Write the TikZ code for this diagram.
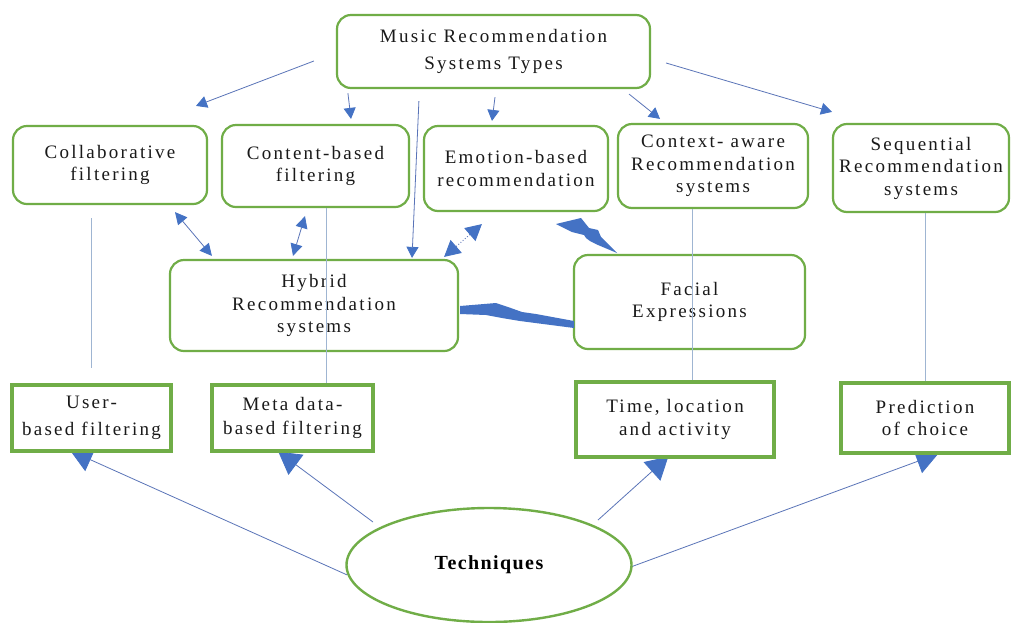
\documentclass[tikz,border=0pt]{standalone}
\usepackage{fontspec}
\setmainfont{Liberation Serif}[LetterSpace=12]
\usetikzlibrary{arrows.meta,calc,shapes.geometric,backgrounds}
\definecolor{boxgreen}{HTML}{70AD47}
\definecolor{headblue}{HTML}{4472C4}
\definecolor{linkblue}{HTML}{5A74B8}
\definecolor{paleblue}{HTML}{9FB5D2}
\begin{document}
\begin{tikzpicture}[x=1pt,y=-1pt,
  txt/.style={font=\fontsize{19}{22.5}\selectfont, align=center, text=black!90},
  rbox/.style={txt, draw=boxgreen, line width=2.2pt, rounded corners=14pt, fill=white, inner sep=0pt},
  sbox/.style={txt, draw=boxgreen, line width=3.4pt, fill=white, inner sep=0pt},
  arr/.style={draw=linkblue, line width=0.8pt, -{Triangle[length=11pt,width=12pt,color=headblue]}},
  darr/.style={draw=linkblue, line width=0.8pt, {Triangle[length=12pt,width=12pt,color=headblue]}-{Triangle[length=12pt,width=12pt,color=headblue]}},
  dotarr/.style={draw=linkblue, line width=0.9pt, dotted, {Triangle[length=16pt,width=17pt,color=headblue]}-{Triangle[length=16pt,width=17pt,color=headblue]}},
  barr/.style={draw=linkblue, line width=0.8pt, -{Triangle[length=22pt,width=25pt,color=headblue]}},
  vline/.style={draw=paleblue, line width=0.9pt},
  bolt/.style={fill=headblue, draw=none}
]
\useasboundingbox (0,0) rectangle (1011,622);

% nodes
\node[rbox, minimum width=313pt, minimum height=73pt] (mrs) at (493.5,51.5) {Music Recommendation\\[5pt]Systems Types};
\node[rbox, minimum width=194pt, minimum height=78pt] (collab) at (110,165) {Collaborative\\filtering};
\node[rbox, minimum width=187pt, minimum height=82pt] (content) at (315.5,166) {Content-based\\filtering};
\node[rbox, minimum width=184pt, minimum height=85pt] (emotion) at (516,168.5) {Emotion-based\\recommendation};
\node[rbox, minimum width=190pt, minimum height=84pt] (context) at (713,166) {Context- aware\\Recommendation\\systems};
\node[rbox, minimum width=176pt, minimum height=88pt] (seq) at (921,168) {Sequential\\Recommendation\\systems};
\node[rbox, minimum width=288pt, minimum height=91pt] (hybrid) at (314,305.5) {Hybrid\\Recommendation\\systems};
\node[rbox, minimum width=231pt, minimum height=94pt] (facial) at (689.5,302) {Facial\\Expressions};
\node[sbox, minimum width=159pt, minimum height=66pt] (user) at (91.5,418) {User-\\[4pt]based filtering};
\node[sbox, minimum width=161pt, minimum height=66pt] (meta) at (292.5,418) {Meta data-\\[2pt]based filtering};
\node[sbox, minimum width=198pt, minimum height=75pt] (time) at (675,419.5) {Time, location\\and activity};
\node[sbox, minimum width=168pt, minimum height=70pt] (pred) at (925,418) {Prediction\\of choice};
\node[ellipse, draw=boxgreen, line width=2.4pt, fill=white, minimum width=285pt, minimum height=114pt, inner sep=0pt,
      font=\fontsize{20}{24}\selectfont\bfseries\addfontfeatures{LetterSpace=7}] (tech) at (489,565) {Techniques};

% background: white page and arrows from Techniques
\begin{scope}[on background layer]
  \fill[white] (0,0) rectangle (1011,622);
  \draw[barr] ($(tech.west)+(2,10)$) -- ($(user.south west)+(60,-2)$);
  \draw[barr] ($(tech.center)+(-116,-43)$) -- ($(meta.south west)+(68,-1)$);
  \draw[barr] ($(tech.center)+(109,-45)$) -- ($(time.south west)+(94,-2)$);
  \draw[barr] ($(tech.east)+(-2,2)$) -- ($(pred.south west)+(99,-1)$);
\end{scope}

% arrows from the type box
\draw[arr] ($(mrs.west)+(-22,9.5)$) -- ($(collab.north)+(86,-19)$);
\draw[arr] ($(mrs.south west)+(12,4)$) -- ($(content.north)+(35.5,-5)$);
\draw[arr] ($(mrs.south west)+(83,12)$) -- ($(hybrid.north)+(98,-1)$);
\draw[arr] ($(mrs.south)+(1.5,8)$) -- ($(emotion.north)+(-24,-4)$);
\draw[arr] ($(mrs.south east)+(-22,5)$) -- ($(context.north)+(-53,-4)$);
\draw[arr] ($(mrs.east)+(15,11.5)$) -- ($(seq.north)+(-89,-11)$);

% two-way arrows to Hybrid
\draw[darr] ($(collab.south)+(65,7)$) -- ($(hybrid.north west)+(43,-3)$);
\draw[darr] ($(content.south)+(-10.5,8)$) -- ($(hybrid.north)+(-21,-3)$);
\draw[dotarr] ($(emotion.south west)+(59,12)$) -- ($(hybrid.north east)+(-15,-2)$);

% vertical links to technique boxes
\draw[vline] ($(user.north |- collab.south)+(0,13)$) -- ($(user.north)+(0,-15)$);
\draw[vline] ($(content.south)+(10.5,0)$) -- ($(meta.north)+(33.5,0)$);
\draw[vline] ($(context.south)+(-21,0)$) -- ($(time.north)+(17,0)$);
\draw[vline] ($(seq.south)+(4,0)$) -- (pred.north);

% lightning links to Facial Expressions
\fill[bolt] (556,224) -- (581,218) -- (589,228) -- (598,230) -- (601,237) -- (617,253) -- (598,245) -- (590,241) -- (586,238) -- (584,235) -- (572,232) -- cycle;
\fill[bolt] (460,306) -- (496,303) -- (508,307) -- (522,312) -- (536,314) -- (574,321) -- (574,328) -- (543,324) -- (520,321) -- (502,318) -- (486,315) -- (460,314) -- cycle;
\end{tikzpicture}
\end{document}
